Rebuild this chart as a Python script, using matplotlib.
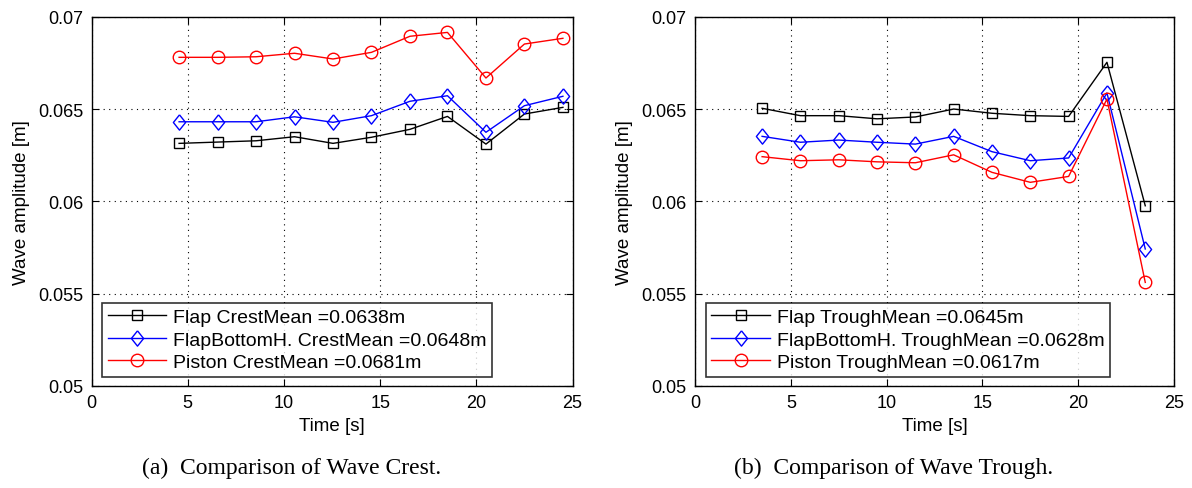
import matplotlib
matplotlib.use("Agg")
import matplotlib.pyplot as plt
import numpy as np

# ---- data ----
t_crest = [4.55, 6.55, 8.55, 10.55, 12.55, 14.55, 16.55, 18.5, 20.5, 22.5, 24.5]
crest_flap = [0.06314, 0.06321, 0.06328, 0.06350, 0.06314, 0.06347, 0.06390, 0.06460, 0.06310, 0.06473, 0.06509]
crest_flapbh = [0.06431, 0.06431, 0.06431, 0.06458, 0.06428, 0.06464, 0.06542, 0.06572, 0.06374, 0.06518, 0.06569]
crest_piston = [0.06780, 0.06780, 0.06783, 0.06802, 0.06771, 0.06807, 0.06894, 0.06915, 0.06668, 0.06852, 0.06883]

t_trough = [3.5, 5.5, 7.5, 9.5, 11.5, 13.5, 15.5, 17.5, 19.5, 21.5, 23.5]
trough_flap = [0.06504, 0.06464, 0.06464, 0.06447, 0.06457, 0.06500, 0.06477, 0.06464, 0.06460, 0.06753, 0.05976]
trough_flapbh = [0.06352, 0.06320, 0.06332, 0.06320, 0.06310, 0.06352, 0.06269, 0.06220, 0.06235, 0.06587, 0.05742]
trough_piston = [0.06242, 0.06220, 0.06225, 0.06214, 0.06209, 0.06252, 0.06157, 0.06103, 0.06135, 0.06554, 0.05561]

crest_labels = ["Flap CrestMean =0.0638m", "FlapBottomH. CrestMean =0.0648m", "Piston CrestMean =0.0681m"]
trough_labels = ["Flap TroughMean =0.0645m", "FlapBottomH. TroughMean =0.0628m", "Piston TroughMean =0.0617m"]
xticks = [0, 5, 10, 15, 20, 25]
yticks = [0.05, 0.055, 0.06, 0.065, 0.07]
ytick_labels = ["0.05", "0.055", "0.06", "0.065", "0.07"]
captions = ["(a)  Comparison of Wave Crest.", "(b)  Comparison of Wave Trough."]

plt.rcParams['font.family'] = ['Liberation Sans', 'DejaVu Sans']

diamond = [(0, 1), (0.8, 0), (0, -1), (-0.8, 0), (0, 1)]
styles = [dict(color='black', marker='s', markersize=7.5),
          dict(color='blue', marker=diamond, markersize=11),
          dict(color='red', marker='o', markersize=9)]

fig = plt.figure(figsize=(11.92, 4.89), dpi=100)
ax1 = fig.add_axes([0.0768, 0.2086, 0.4035, 0.7552])
ax2 = fig.add_axes([0.5831, 0.2086, 0.4018, 0.7552])

def draw(ax, t, series, labels, caption, xc):
    for y, lab, st in zip(series, labels, styles):
        ax.plot(t, y, linewidth=1.0, markerfacecolor='none', markeredgewidth=1.0,
                label=lab, **st)
    ax.set_xlim(0, 25)
    ax.set_ylim(0.05, 0.07)
    ax.set_xticks(xticks)
    ax.set_yticks(yticks)
    ax.set_yticklabels(ytick_labels)
    ax.tick_params(direction='in', top=True, right=True, labelsize=13, length=5, pad=6)
    ax.grid(True, linestyle=(0, (1, 4)), color='black', linewidth=0.8)
    for s in ax.spines.values():
        s.set_linewidth(1.0)
    ax.set_xlabel("Time [s]", fontsize=13.5, labelpad=4)
    ax.set_ylabel("Wave amplitude [m]", fontsize=13.5, labelpad=6)
    leg = ax.legend(loc='lower left', bbox_to_anchor=(0.022, 0.024), fontsize=14,
                    handlelength=3.0, frameon=True, fancybox=False, borderpad=0.3,
                    labelspacing=0.26, handletextpad=0.35, borderaxespad=0)
    leg.get_frame().set_edgecolor('black')
    leg.get_frame().set_linewidth(1.2)
    fig.text(xc, 0.043, caption, ha='center', va='center', fontsize=17,
             family=['Liberation Serif', 'DejaVu Serif'])

draw(ax1, t_crest, [crest_flap, crest_flapbh, crest_piston], crest_labels, captions[0], 0.2447)
draw(ax2, t_trough, [trough_flap, trough_flapbh, trough_piston], trough_labels, captions[1], 0.75)

fig.savefig("out.png", dpi=100)
